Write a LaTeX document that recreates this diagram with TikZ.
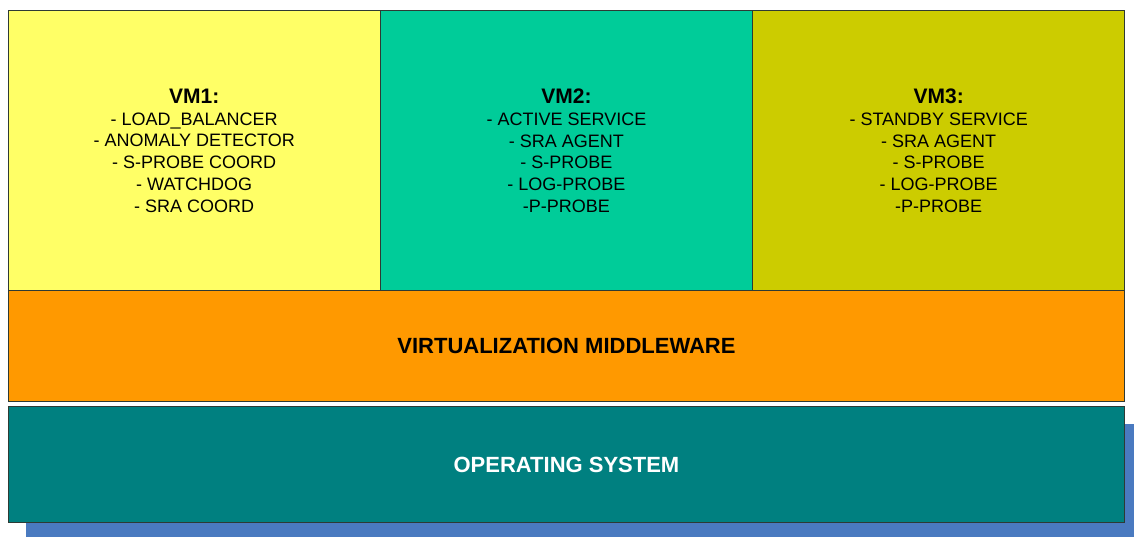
\documentclass[tikz,border=0pt]{standalone}
\usepackage{fontspec}
\setmainfont{Liberation Sans}
\definecolor{vmone}{HTML}{FFFF66}
\definecolor{vmtwo}{HTML}{00CC99}
\definecolor{vmthree}{HTML}{CCCC00}
\definecolor{midware}{HTML}{FF9900}
\definecolor{opsys}{HTML}{008080}
\definecolor{shadowblue}{HTML}{4A7AC0}
\definecolor{edge}{HTML}{2E3A34}
\tikzset{
  layer/.style={draw=edge, line width=1.4pt, anchor=north west, inner sep=0pt,
    align=center, text=black},
  vmbox/.style={layer, minimum height=280pt,
    font=\fontsize{18}{21.7}\selectfont},
  bandlabel/.style={font=\fontsize{22}{26}\selectfont\bfseries}
}
\newcommand{\vmtitle}[1]{{\fontsize{21}{22}\selectfont\bfseries #1}}
\begin{document}
\begin{tikzpicture}[x=1pt,y=-1pt]
  \useasboundingbox (0,0) rectangle (1134,536);
  % drop shadow under the operating-system layer
  \begin{scope}
    \clip (0,0) rectangle (1134,536);
    \fill[shadowblue] (26,424) rectangle (1150,545);
  \end{scope}
  % operating system layer
  \node[layer, fill=opsys, minimum width=1116.5pt, minimum height=116pt,
        text=white, bandlabel] (os) at (7.5,406) {OPERATING SYSTEM};
  % virtualization middleware layer
  \node[layer, fill=midware, minimum width=1116.5pt, minimum height=111pt,
        bandlabel] (mw) at (7.5,290) {VIRTUALIZATION MIDDLEWARE};
  % virtual machines
  \node[vmbox, fill=vmone, minimum width=372pt] (vm1) at (7.5,10)
    {\vmtitle{VM1:}\\
     - LOAD\_BALANCER\\ - ANOMALY DETECTOR\\ - S-PROBE COORD\\
     - WATCHDOG\\ - SRA COORD};
  \node[vmbox, fill=vmtwo, minimum width=372.5pt] (vm2) at (379.5,10)
    {\vmtitle{VM2:}\\
     - ACTIVE SERVICE\\ - SRA AGENT\\ - S-PROBE\\ - LOG-PROBE\\ -P-PROBE};
  \node[vmbox, fill=vmthree, minimum width=372pt] (vm3) at (752,10)
    {\vmtitle{VM3:}\\
     - STANDBY SERVICE\\ - SRA AGENT\\ - S-PROBE\\ - LOG-PROBE\\ -P-PROBE};
\end{tikzpicture}
\end{document}
